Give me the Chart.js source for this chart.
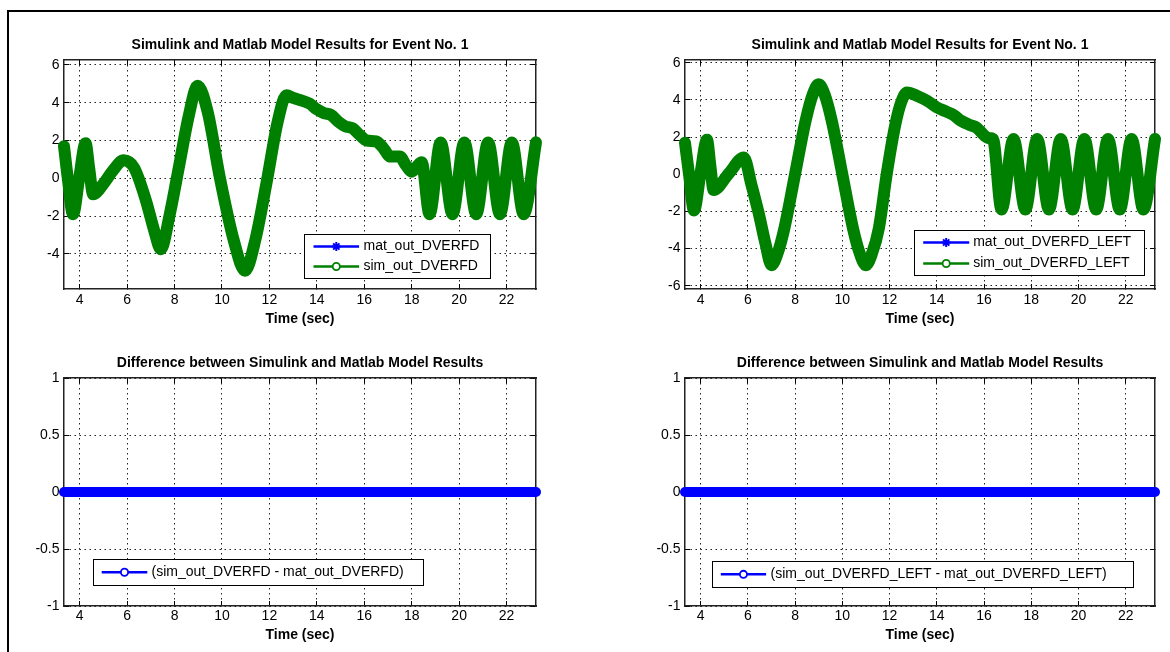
<!DOCTYPE html>
<html>
<head>
<meta charset="utf-8">
<script src="https://cdn.jsdelivr.net/npm/chart.js@4.4.1/dist/chart.umd.min.js"></script>
<style>
  body { margin: 0; background: #fff; }
  #fig { position: relative; width: 1170px; height: 652px; overflow: hidden; background: #fff; }
  #frame { position: absolute; left: 7px; top: 10px; width: 1200px; height: 700px; border-top: 2px solid #000; border-left: 2px solid #000; }
  canvas { position: absolute; }
</style>
</head>
<body>
<div id="fig">
  <div id="frame"></div>
  <canvas id="topLeft" width="585" height="340" style="left:0;top:0"></canvas>
  <canvas id="topRight" width="585" height="340" style="left:585px;top:0"></canvas>
  <canvas id="bottomLeft" width="585" height="312" style="left:0;top:340px"></canvas>
  <canvas id="bottomRight" width="585" height="312" style="left:585px;top:340px"></canvas>
</div>
<script>
// DVERFD (right) traces
const timeDverfd = [3.34, 3.5, 3.72, 3.98, 4.25, 4.4, 4.57, 5.0, 5.4, 5.85, 6.3, 6.8, 7.15, 7.42,
  7.8, 8.2, 8.6, 8.97, 9.4, 9.9, 10.5, 10.97, 11.4, 11.9, 12.35, 12.72, 13.0, 13.4, 13.7, 14.0,
  14.3, 14.6, 14.9, 15.2, 15.5, 15.8, 16.1, 16.5, 16.8, 17.1, 17.5, 17.75, 18.0, 18.2, 18.42,
  18.75, 19.22, 19.72, 20.22, 20.72, 21.22, 21.72, 22.22, 22.72, 23.24];
const simDverfd = [1.7, 0.0, -1.9, 0.0, 1.85, 0.55, -0.85, -0.3, 0.4, 0.95, 0.55, -1.2, -2.8, -3.75,
  -1.9, 0.7, 3.3, 4.9, 3.5, 0.1, -3.3, -4.9, -3.3, -0.1, 3.0, 4.4, 4.25, 4.1, 3.95, 3.65,
  3.45, 3.35, 3.0, 2.75, 2.65, 2.3, 2.0, 1.95, 1.6, 1.15, 1.15, 0.7, 0.35, 0.6, 0.85,
  -1.9, 1.9, -1.9, 1.9, -1.9, 1.9, -1.9, 1.9, -1.9, 1.9];
// matlab model gives the same values (difference plot is flat zero)
const matDverfd = simDverfd.slice();

// DVERFD_LEFT traces
const timeDverfdLeft = [3.34, 3.52, 3.72, 3.99, 4.27, 4.41, 4.55, 5.2, 5.83, 6.15, 6.46, 6.75, 7.0,
  7.25, 7.55, 8.0, 8.45, 8.75, 9.0, 9.25, 9.55, 10.0, 10.45, 10.75, 11.0, 11.25, 11.55, 11.88,
  12.25, 12.5, 12.74, 13.2, 13.6, 14.0, 14.35, 14.7, 15.0, 15.4, 15.7, 16.0, 16.2, 16.38,
  16.74, 17.25, 17.75, 18.25, 18.75, 19.25, 19.75, 20.25, 20.75, 21.25, 21.75, 22.25, 22.75, 23.24];
const simDverfdLeft = [1.7, -0.1, -1.95, 0.0, 1.85, 0.5, -0.85, 0.05, 0.9, -0.55, -2.1, -3.75, -4.9,
  -4.3, -2.9, 0.0, 2.9, 4.3, 4.85, 4.3, 2.9, 0.0, -2.9, -4.3, -4.9, -4.3, -2.9, 0.0,
  2.7, 3.9, 4.4, 4.2, 3.95, 3.6, 3.4, 3.2, 2.9, 2.65, 2.5, 2.1, 1.95, 1.9,
  -1.9, 1.9, -1.9, 1.9, -1.9, 1.9, -1.9, 1.9, -1.9, 1.9, -1.9, 1.9, -1.9, 1.9];
const matDverfdLeft = simDverfdLeft.slice();

// difference traces
const diffTime = [3.34, 4, 5, 6, 7, 8, 9, 10, 11, 12, 13, 14, 15, 16, 17, 18, 19, 20, 21, 22, 23, 23.24];
const diffDverfd = [0, 0, 0, 0, 0, 0, 0, 0, 0, 0, 0, 0, 0, 0, 0, 0, 0, 0, 0, 0, 0, 0];
const diffDverfdLeft = [0, 0, 0, 0, 0, 0, 0, 0, 0, 0, 0, 0, 0, 0, 0, 0, 0, 0, 0, 0, 0, 0];

const timeRange = [3.34, 23.24];
const timeStep = 2;

const FONT = '"Liberation Sans", Arial, Helvetica, sans-serif';
Chart.defaults.font.family = FONT;
Chart.defaults.font.size = 14;
Chart.defaults.color = '#000';

const pts = (xs, ys) => xs.map((x, i) => ({ x: x, y: ys[i] }));

// matlab style legend box inside the axes
const boxLegend = {
    id: 'boxLegend',
    afterDatasetsDraw(chart, args, o) {
        const { ctx, chartArea: a } = chart;
        const sets = chart.data.datasets;
        ctx.save();
        ctx.font = '14px ' + FONT;
        const textW = Math.max(...sets.map(d => ctx.measureText(d.label).width));
        const w = Math.round(o.padLeft + o.sample + o.gap + textW + o.padRight);
        const h = Math.round(o.rowH * sets.length + o.padY * 2);
        const x = Math.round(o.side === 'right' ? a.right - o.dx - w : a.left + o.dx) + 0.5;
        const y = Math.round(a.bottom - o.dy - h) + 0.5;
        ctx.fillStyle = '#fff';
        ctx.fillRect(x, y, w, h);
        ctx.strokeStyle = '#000';
        ctx.lineWidth = 1;
        ctx.strokeRect(x, y, w, h);
        sets.forEach((d, i) => {
            const cy = y + o.padY + o.rowH * (i + 0.5);
            const x0 = x + o.padLeft, x1 = x0 + o.sample, cx = (x0 + x1) / 2;
            ctx.strokeStyle = d.borderColor;
            ctx.lineWidth = 2.5;
            ctx.beginPath(); ctx.moveTo(x0, cy); ctx.lineTo(x1, cy); ctx.stroke();
            if (d.pointStyle === 'star') {
                const r = 4.5, q = r * 0.7;
                ctx.lineWidth = 2;
                ctx.beginPath();
                ctx.moveTo(cx - r, cy); ctx.lineTo(cx + r, cy);
                ctx.moveTo(cx, cy - r); ctx.lineTo(cx, cy + r);
                ctx.moveTo(cx - q, cy - q); ctx.lineTo(cx + q, cy + q);
                ctx.moveTo(cx - q, cy + q); ctx.lineTo(cx + q, cy - q);
                ctx.stroke();
            } else {
                ctx.lineWidth = 1.8;
                ctx.fillStyle = '#fff';
                ctx.beginPath(); ctx.arc(cx, cy, 3.6, 0, Math.PI * 2); ctx.fill(); ctx.stroke();
            }
            ctx.fillStyle = '#000';
            ctx.textBaseline = 'middle';
            ctx.textAlign = 'left';
            ctx.fillText(d.label, x1 + o.gap, cy);
        });
        ctx.restore();
    }
};

function makeScales(yMin, yMax, yStep, s) {
    const grid = { color: '#222', lineWidth: 1, tickLength: -5, tickColor: '#000', tickWidth: 1 };
    const border = { color: '#222', width: 1.5, dash: [1.5, 3.5] };
    const frameSide = { color: '#222', width: 1.5 };
    return {
        x: {
            type: 'linear', axis: 'x', position: 'bottom', min: timeRange[0], max: timeRange[1],
            ticks: { stepSize: timeStep, includeBounds: false, padding: s.xTickPad, maxRotation: 0, autoSkip: false },
            grid: grid, border: border,
            title: { display: true, text: 'Time (sec)', font: { size: 14, weight: 'bold' }, padding: { top: 0, bottom: s.xTitlePad } },
            afterFit: sc => { sc.height = s.xH; }
        },
        y: {
            type: 'linear', axis: 'y', position: 'left', min: yMin, max: yMax,
            ticks: { stepSize: yStep, includeBounds: false, padding: 9.5, callback: v => String(v) },
            grid: grid, border: border,
            afterFit: sc => { sc.width = s.yW; }
        },
        xTop: {
            type: 'linear', axis: 'x', position: 'top', min: timeRange[0], max: timeRange[1],
            ticks: { stepSize: timeStep, includeBounds: false, display: false },
            grid: { ...grid, drawOnChartArea: false }, border: frameSide,
            afterFit: sc => { sc.height = 0; }
        },
        yRight: {
            type: 'linear', axis: 'y', position: 'right', min: yMin, max: yMax,
            ticks: { stepSize: yStep, includeBounds: false, display: false },
            grid: { ...grid, drawOnChartArea: false }, border: frameSide,
            afterFit: sc => { sc.width = 0; }
        }
    };
}

function makePlot(id, cfg) {
    return new Chart(document.getElementById(id), {
        type: 'line',
        data: { datasets: cfg.datasets },
        options: {
            responsive: false,
            animation: false,
            events: [],
            layout: { padding: { left: 0, right: cfg.padRight, top: 0, bottom: 0 } },
            plugins: {
                legend: { display: false },
                tooltip: { enabled: false },
                title: {
                    display: true, text: cfg.title, fullSize: false, color: '#000',
                    font: { size: 14, weight: 'bold' }, padding: cfg.titlePad
                },
                boxLegend: cfg.legend
            },
            scales: makeScales(cfg.y[0], cfg.y[1], cfg.y[2], cfg.sizes)
        },
        plugins: [boxLegend]
    });
}

const lineBase = { pointRadius: 0, cubicInterpolationMode: 'monotone', clip: false,
    borderCapStyle: 'round', borderJoinStyle: 'round', xAxisID: 'x', yAxisID: 'y' };

const topSizes = (yW) => ({ xH: 51, xTickPad: 7.6, xTitlePad: 12.4, yW: yW });
const bottomSizes = (yW) => ({ xH: 46, xTickPad: 6.6, xTitlePad: 8.6, yW: yW });

makePlot('topLeft', {
    title: 'Simulink and Matlab Model Results for Event No. 1',
    titlePad: { top: 37.2, bottom: 6 },
    padRight: 49,
    y: [-5.86, 6.26, 2],
    sizes: topSizes(64),
    legend: { side: 'right', dx: 46, dy: 11, padLeft: 9, sample: 45.6, gap: 4.4, padRight: 11, rowH: 20, padY: 2 },
    datasets: [
        { ...lineBase, label: 'mat_out_DVERFD', data: pts(timeDverfd, matDverfd), borderColor: '#0000ff', borderWidth: 2, pointStyle: 'star', order: 2 },
        { ...lineBase, label: 'sim_out_DVERFD', data: pts(timeDverfd, simDverfd), borderColor: '#008000', borderWidth: 12, pointStyle: 'circle', order: 1 }
    ]
});

makePlot('topRight', {
    title: 'Simulink and Matlab Model Results for Event No. 1',
    titlePad: { top: 37.2, bottom: 6 },
    padRight: 15,
    y: [-6.18, 6.15, 2],
    sizes: topSizes(100),
    legend: { side: 'right', dx: 11.5, dy: 14, padLeft: 8.7, sample: 46, gap: 4, padRight: 13.5, rowH: 21, padY: 1.5 },
    datasets: [
        { ...lineBase, label: 'mat_out_DVERFD_LEFT', data: pts(timeDverfdLeft, matDverfdLeft), borderColor: '#0000ff', borderWidth: 2, pointStyle: 'star', order: 2 },
        { ...lineBase, label: 'sim_out_DVERFD_LEFT', data: pts(timeDverfdLeft, simDverfdLeft), borderColor: '#008000', borderWidth: 12, pointStyle: 'circle', order: 1 }
    ]
});

makePlot('bottomLeft', {
    title: 'Difference between Simulink and Matlab Model Results',
    titlePad: { top: 14.3, bottom: 6.9 },
    padRight: 49,
    y: [-1, 1, 0.5],
    sizes: bottomSizes(64),
    legend: { side: 'left', dx: 28.5, dy: 20.7, padLeft: 8.2, sample: 45.6, gap: 4.3, padRight: 20, rowH: 20, padY: 2.8 },
    datasets: [
        { ...lineBase, label: '(sim_out_DVERFD - mat_out_DVERFD)', data: pts(diffTime, diffDverfd), borderColor: '#0000ff', borderWidth: 10, pointStyle: 'circle' }
    ]
});

makePlot('bottomRight', {
    title: 'Difference between Simulink and Matlab Model Results',
    titlePad: { top: 14.3, bottom: 6.9 },
    padRight: 15,
    y: [-1, 1, 0.5],
    sizes: bottomSizes(100),
    legend: { side: 'left', dx: 27.4, dy: 19, padLeft: 8.3, sample: 45.3, gap: 4.5, padRight: 27, rowH: 20, padY: 2.85 },
    datasets: [
        { ...lineBase, label: '(sim_out_DVERFD_LEFT - mat_out_DVERFD_LEFT)', data: pts(diffTime, diffDverfdLeft), borderColor: '#0000ff', borderWidth: 10, pointStyle: 'circle' }
    ]
});
</script>
</body>
</html>
